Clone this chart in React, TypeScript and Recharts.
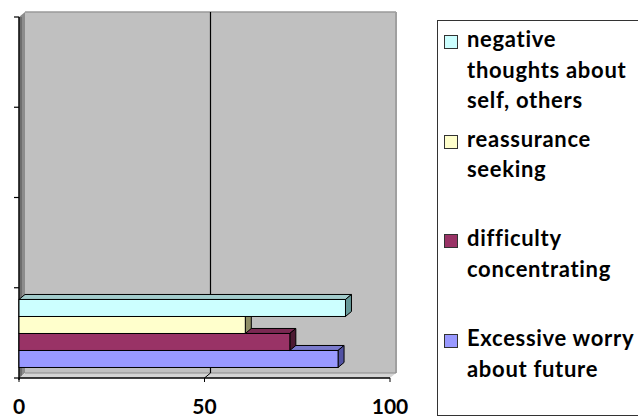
import React from 'react';
import { BarChart, Bar, XAxis, YAxis, ReferenceArea, ReferenceLine } from 'recharts';

// four slots on the category axis; only the first one carries answers
const categories = ['1', '2', '3', '4'];
const seriesKeys = ['negative', 'reassurance', 'difficulty', 'worry'];
const legendLines = [
  ['negative', 'thoughts about', 'self, others'],
  ['reassurance', 'seeking'],
  ['difficulty', 'concentrating'],
  ['Excessive worry', 'about future'],
];
const negativeThoughts = [88, null, null, null];
const reassuranceSeeking = [61, null, null, null];
const difficultyConcentrating = [73, null, null, null];
const excessiveWorry = [86, null, null, null];
const xTicks = [0, 50, 100];

const seriesValues = [negativeThoughts, reassuranceSeeking, difficultyConcentrating, excessiveWorry];

const data = categories.map((name, i) => {
  const row: Record<string, string | number | null> = { name };
  seriesKeys.forEach((k, s) => {
    row[k] = seriesValues[s][i];
  });
  return row;
});

const FACES = [
  { front: '#ccffff', top: '#a3cccc', side: '#669999' },
  { front: '#ffffcc', top: '#cccca3', side: '#8f8f66' },
  { front: '#993366', top: '#7a2952', side: '#4d1a33' },
  { front: '#9999ff', top: '#7a7acc', side: '#5252a3' },
];

// offset of the back plane (excel-style 3d)
const DX = 6;
const DY = -5;
const FONT = 'Lato, "Open Sans", sans-serif';

const makeBar3D = (face: { front: string; top: string; side: string }) => (props: any) => {
  const { x, y, width, height } = props;
  if (!width || !height) return <g />;
  const top = `${x},${y} ${x + DX},${y + DY} ${x + width + DX},${y + DY} ${x + width},${y}`;
  const side = `${x + width},${y} ${x + width + DX},${y + DY} ${x + width + DX},${y + height + DY} ${x + width},${y + height}`;
  return (
    <g>
      <polygon points={top} fill={face.top} stroke="#000" strokeWidth={1} />
      <polygon points={side} fill={face.side} stroke="#000" strokeWidth={1} />
      <rect x={x} y={y} width={width} height={height} fill={face.front} stroke="#000" strokeWidth={1} />
    </g>
  );
};

// back wall, left wall and floor, plus the category axis with its
// tick marks on the band boundaries
const Walls = (props: any) => {
  const { x, y, width: w, height: h } = props;
  const n = categories.length;
  const bounds = Array.from({ length: n + 1 }, (_, k) => y + (h * k) / n);
  return (
    <g>
      <rect x={x + DX} y={y + DY} width={w} height={h} fill="#c0c0c0" />
      <line x1={x + DX} y1={y + DY} x2={x + DX + w} y2={y + DY} stroke="#9a9a9a" strokeWidth={1.5} />
      <line x1={x + DX + w} y1={y + DY} x2={x + DX + w} y2={y + h + DY} stroke="#a0a0a0" strokeWidth={2} />
      <polygon
        points={`${x},${y} ${x + DX},${y + DY} ${x + DX},${y + h + DY} ${x},${y + h}`}
        fill="#8c8c8c"
      />
      <line x1={x + 2} y1={y} x2={x + 2} y2={y + h} stroke="#6e6e6e" strokeWidth={2} />
      <polygon
        points={`${x},${y + h} ${x + DX},${y + h + DY} ${x + w + DX},${y + h + DY} ${x + w},${y + h}`}
        fill="#d4d4d4"
      />
      <line x1={x + DX} y1={y + h + DY} x2={x + w + DX} y2={y + h + DY} stroke="#8c8c8c" strokeWidth={1} />
      <line x1={x} y1={y} x2={x} y2={y + h + 2} stroke="#000" strokeWidth={1.5} />
      {bounds.map((by) => (
        <line key={by} x1={x - 5} y1={by} x2={x} y2={by} stroke="#000" strokeWidth={1.2} />
      ))}
    </g>
  );
};

// gridline on the back wall, carried across the floor to the front edge
const BackGridLine = (props: any) => {
  const { x1, y1, y2 } = props;
  const top = Math.min(y1, y2);
  const bottom = Math.max(y1, y2);
  return (
    <g>
      <line x1={x1 + DX} y1={top + DY} x2={x1 + DX} y2={bottom + DY} stroke="#000" strokeWidth={1.2} />
      <line x1={x1 + DX} y1={bottom + DY} x2={x1} y2={bottom} stroke="#000" strokeWidth={1} />
    </g>
  );
};

const LegendBox = () => (
  <div
    style={{
      position: 'absolute',
      left: 437,
      top: 20,
      width: 220,
      height: 396,
      border: '1px solid #333',
      boxSizing: 'border-box',
      paddingTop: 3,
      fontFamily: FONT,
      fontWeight: 700,
      fontSize: 22,
      letterSpacing: '0.7px',
      lineHeight: '30.5px',
      color: '#000',
    }}
  >
    {legendLines.map((lines, i) => (
      <div key={seriesKeys[i]} style={{ height: 99.7, display: 'flex', alignItems: 'flex-start' }}>
        <span
          style={{
            display: 'inline-block',
            width: 14,
            height: 14,
            marginLeft: 6,
            marginTop: 11,
            marginRight: 9,
            background: FACES[i].front,
            border: '1px solid #333',
            boxSizing: 'border-box',
            flexShrink: 0,
          }}
        />
        <div>
          {lines.map((t) => (
            <div key={t} style={{ whiteSpace: 'nowrap' }}>{t}</div>
          ))}
        </div>
      </div>
    ))}
  </div>
);

export default function App() {
  return (
    <div style={{ position: 'absolute', left: 0, top: 0, width: 638, height: 417, overflow: 'hidden', background: '#fff' }}>
      <BarChart
        width={638}
        height={417}
        data={data}
        layout="vertical"
        margin={{ top: 17, right: 248, bottom: 0, left: 19 }}
        barCategoryGap="13%"
        barGap={0}
      >
        <XAxis
          type="number"
          domain={[0, 100]}
          ticks={xTicks}
          interval={0}
          height={39}
          tickSize={4}
          tickMargin={17}
          axisLine={{ stroke: '#000', strokeWidth: 1.5 }}
          tickLine={{ stroke: '#000' }}
          tick={{ fill: '#000', fontSize: 21, fontWeight: 700, fontFamily: FONT }}
        />
        <YAxis type="category" dataKey="name" reversed hide />
        <ReferenceArea x1={0} x2={100} shape={Walls} fillOpacity={1} zIndex={0} />
        <ReferenceLine x={50} shape={BackGridLine} zIndex={1} />
        {seriesKeys.map((k, i) => (
          <Bar
            key={k}
            dataKey={k}
            fill={FACES[i].front}
            shape={makeBar3D(FACES[i])}
            isAnimationActive={false}
            zIndex={310 - i}
          />
        ))}
      </BarChart>
      <LegendBox />
    </div>
  );
}
